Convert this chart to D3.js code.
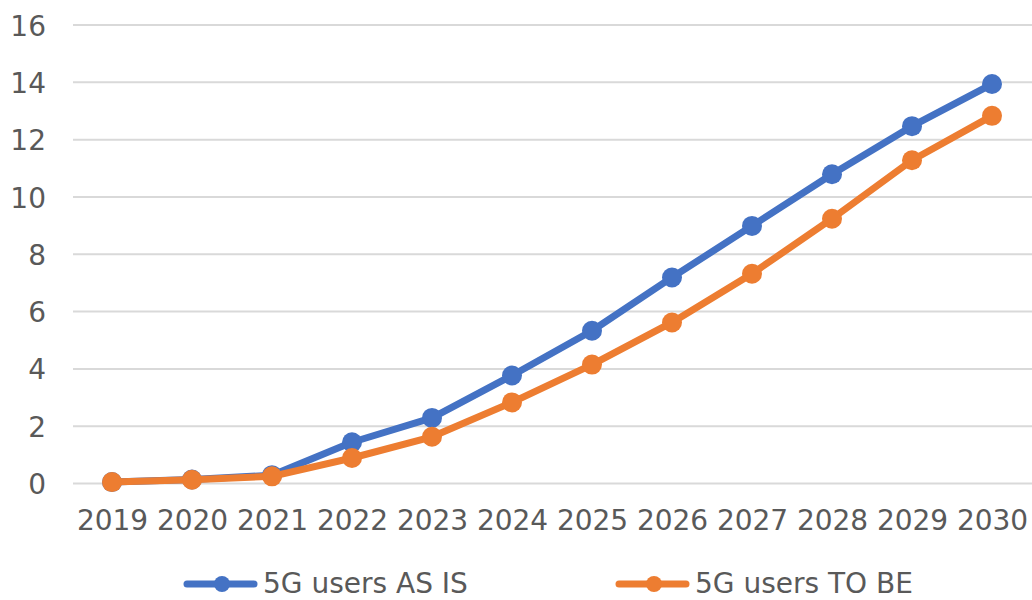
<!DOCTYPE html>
<html>
<head>
<meta charset="utf-8">
<script src="https://cdn.jsdelivr.net/npm/d3@7"></script>
<style>
  body { margin: 0; background: #fff; }
  text { font-family: "DejaVu Sans", Verdana, sans-serif; fill: #595959; }
</style>
</head>
<body>
<div id="chart"></div>
<script>
// Data
const years = ["2019", "2020", "2021", "2022", "2023", "2024", "2025", "2026", "2027", "2028", "2029", "2030"];
const asIs = [0.05, 0.14, 0.29, 1.44, 2.29, 3.77, 5.33, 7.19, 8.99, 10.79, 12.47, 13.94];
const toBe = [0.05, 0.13, 0.25, 0.89, 1.63, 2.83, 4.15, 5.62, 7.32, 9.24, 11.28, 12.83];
const yTicks = [0, 2, 4, 6, 8, 10, 12, 14, 16];

const series = [
    { name: "5G users AS IS", values: asIs, color: "#4472C4" },
    { name: "5G users TO BE", values: toBe, color: "#ED7D31" }
];

const width = 1032;
const height = 600;

const svg = d3.select("#chart")
    .append("svg")
    .attr("width", width)
    .attr("height", height);

// Scales
const x = d3.scalePoint()
    .domain(years)
    .range([72, 1032])
    .padding(0.5);

const y = d3.scaleLinear()
    .domain([0, 16])
    .range([483.5, 25]);

// Gridlines
svg.append("g")
    .selectAll("line")
    .data(yTicks)
    .enter()
    .append("line")
    .attr("x1", 73)
    .attr("x2", 1032)
    .attr("y1", d => y(d))
    .attr("y2", d => y(d))
    .attr("stroke", "#d9d9d9")
    .attr("stroke-width", 2);

// Y axis labels
const yAxis = svg.append("g")
    .attr("transform", "translate(46,0)")
    .call(d3.axisLeft(y).tickValues(yTicks).tickSize(0).tickPadding(0));
yAxis.select(".domain").remove();
yAxis.selectAll("text")
    .attr("font-size", 28)
    .attr("font-family", null)
    .attr("dy", "0.36em");

// X axis labels
const xAxis = svg.append("g")
    .attr("transform", "translate(0,509)")
    .call(d3.axisBottom(x).tickSize(0).tickPadding(0));
xAxis.select(".domain").remove();
xAxis.selectAll("text")
    .attr("font-size", 28)
    .attr("font-family", null)
    .attr("dy", "0.75em");

// Lines and markers
const line = d3.line()
    .x((d, i) => x(years[i]))
    .y(d => y(d));

series.forEach(s => {
    const g = svg.append("g");
    g.append("path")
        .datum(s.values)
        .attr("d", line)
        .attr("fill", "none")
        .attr("stroke", s.color)
        .attr("stroke-width", 7)
        .attr("stroke-linejoin", "round")
        .attr("stroke-linecap", "round");
    g.selectAll("circle")
        .data(s.values)
        .enter()
        .append("circle")
        .attr("cx", (d, i) => x(years[i]))
        .attr("cy", d => y(d))
        .attr("r", 10)
        .attr("fill", s.color);
});

// Legend
const legendX = [187, 619];
const legend = svg.selectAll(".legend")
    .data(series)
    .enter()
    .append("g")
    .attr("class", "legend")
    .attr("transform", (d, i) => `translate(${legendX[i]},584)`);

legend.append("line")
    .attr("x1", 0)
    .attr("x2", 67)
    .attr("stroke", d => d.color)
    .attr("stroke-width", 7)
    .attr("stroke-linecap", "round");

legend.append("circle")
    .attr("cx", 35)
    .attr("r", 8)
    .attr("fill", d => d.color);

legend.append("text")
    .attr("x", 76)
    .attr("y", 9)
    .attr("font-size", 28)
    .text(d => d.name);
</script>
</body>
</html>
